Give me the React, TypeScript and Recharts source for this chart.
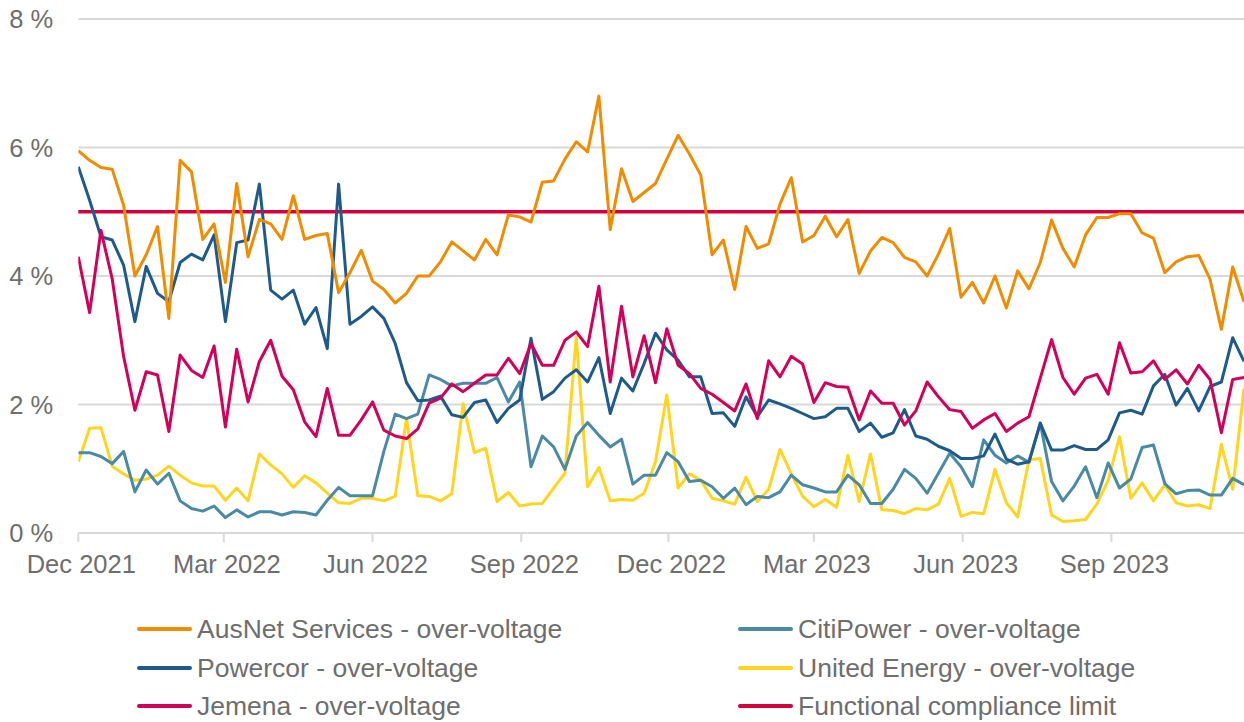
import React from 'react';
import { LineChart, Line, XAxis, YAxis, CartesianGrid, ReferenceLine } from 'recharts';

// ---- data ----
const startDate = '2021-12-01';
const weekCount = 104;

const tickDates = ['2021-12-01', '2022-03-01', '2022-06-01', '2022-09-01', '2022-12-01', '2023-03-01', '2023-06-01', '2023-09-01'];
const tickLabels = ['Dec 2021', 'Mar 2022', 'Jun 2022', 'Sep 2022', 'Dec 2022', 'Mar 2023', 'Jun 2023', 'Sep 2023'];
const yTicks = [0, 2, 4, 6, 8];
const complianceLimit = 5;

const ausnet = [
  5.95, 5.80, 5.69, 5.66, 5.10, 4.00, 4.33, 4.77, 3.34, 5.80, 5.62, 4.57, 4.81, 3.90, 5.44, 4.30, 4.88,
  4.81, 4.57, 5.25, 4.57, 4.63, 4.66, 3.74, 4.05, 4.40, 3.92, 3.79, 3.58, 3.73, 4.00, 4.00, 4.22, 4.53,
  4.39, 4.25, 4.57, 4.33, 4.95, 4.92, 4.84, 5.46, 5.48, 5.82, 6.09, 5.93, 6.80, 4.72, 5.67, 5.16, 5.30,
  5.44, 5.82, 6.19, 5.90, 5.57, 4.33, 4.56, 3.79, 4.77, 4.43, 4.50, 5.12, 5.53, 4.53, 4.63, 4.93, 4.61,
  4.88, 4.04, 4.39, 4.60, 4.52, 4.29, 4.22, 4.00, 4.34, 4.74, 3.67, 3.90, 3.58, 4.00, 3.50, 4.08, 3.80,
  4.21, 4.87, 4.43, 4.14, 4.64, 4.91, 4.91, 4.97, 4.97, 4.67, 4.59, 4.05, 4.22, 4.30, 4.32, 3.95, 3.17, 4.14, 3.60,
];

const powercor = [
  5.70, 5.18, 4.61, 4.56, 4.17, 3.29, 4.15, 3.73, 3.60, 4.21, 4.34, 4.25, 4.64, 3.29, 4.52, 4.56, 5.43,
  3.78, 3.64, 3.78, 3.25, 3.51, 2.87, 5.43, 3.25, 3.37, 3.52, 3.34, 2.95, 2.34, 2.06, 2.07, 2.13, 1.84,
  1.80, 2.03, 2.07, 1.72, 1.94, 2.07, 3.03, 2.08, 2.20, 2.41, 2.54, 2.35, 2.73, 1.86, 2.41, 2.21, 2.64,
  3.11, 2.85, 2.69, 2.43, 2.43, 1.86, 1.87, 1.66, 2.12, 1.81, 2.07, 2.01, 1.94, 1.86, 1.78, 1.81, 1.94,
  1.94, 1.58, 1.71, 1.49, 1.56, 1.92, 1.51, 1.46, 1.35, 1.28, 1.16, 1.16, 1.20, 1.54, 1.15, 1.07, 1.11,
  1.71, 1.29, 1.29, 1.36, 1.30, 1.30, 1.45, 1.87, 1.91, 1.85, 2.29, 2.47, 1.99, 2.25, 1.90, 2.28, 2.35, 3.04, 2.67,
];

const jemena = [
  4.30, 3.43, 4.71, 3.95, 2.75, 1.91, 2.51, 2.46, 1.58, 2.77, 2.53, 2.42, 2.91, 1.65, 2.86, 2.04, 2.67,
  3.00, 2.44, 2.23, 1.73, 1.50, 2.25, 1.52, 1.52, 1.76, 2.04, 1.60, 1.51, 1.47, 1.62, 2.02, 2.10, 2.32,
  2.20, 2.33, 2.46, 2.46, 2.72, 2.48, 2.95, 2.61, 2.61, 3.00, 3.13, 2.90, 3.84, 2.35, 3.53, 2.43, 3.07,
  2.34, 3.18, 2.61, 2.48, 2.25, 2.16, 2.03, 1.90, 2.32, 1.78, 2.68, 2.43, 2.75, 2.63, 2.03, 2.34, 2.28,
  2.27, 1.76, 2.21, 2.02, 2.02, 1.68, 1.90, 2.35, 2.12, 1.92, 1.89, 1.63, 1.76, 1.86, 1.58, 1.71, 1.81,
  2.41, 3.01, 2.42, 2.16, 2.41, 2.47, 2.16, 2.96, 2.49, 2.51, 2.68, 2.39, 2.54, 2.32, 2.61, 2.39, 1.56, 2.39, 2.42,
];

const citipower = [
  1.25, 1.25, 1.19, 1.08, 1.27, 0.64, 0.98, 0.76, 0.93, 0.50, 0.38, 0.34, 0.42, 0.24, 0.36, 0.25, 0.33,
  0.33, 0.28, 0.33, 0.32, 0.28, 0.51, 0.71, 0.58, 0.58, 0.58, 1.27, 1.85, 1.78, 1.85, 2.46, 2.39, 2.29,
  2.33, 2.33, 2.33, 2.42, 2.04, 2.35, 1.03, 1.51, 1.34, 0.99, 1.51, 1.72, 1.52, 1.34, 1.46, 0.76, 0.90,
  0.90, 1.25, 1.11, 0.80, 0.82, 0.72, 0.54, 0.70, 0.44, 0.57, 0.55, 0.64, 0.90, 0.75, 0.70, 0.64, 0.64,
  0.90, 0.75, 0.46, 0.46, 0.68, 0.99, 0.85, 0.62, 0.93, 1.24, 1.03, 0.72, 1.45, 1.21, 1.09, 1.20, 1.10,
  1.71, 0.80, 0.50, 0.73, 1.03, 0.55, 1.09, 0.70, 0.84, 1.33, 1.37, 0.77, 0.61, 0.66, 0.67, 0.59, 0.59, 0.85, 0.75,
];

const unitedEnergy = [
  1.11, 1.63, 1.64, 1.04, 0.92, 0.82, 0.84, 0.90, 1.04, 0.90, 0.78, 0.73, 0.73, 0.51, 0.70, 0.50, 1.23,
  1.06, 0.92, 0.71, 0.89, 0.78, 0.62, 0.47, 0.46, 0.54, 0.54, 0.50, 0.57, 1.78, 0.58, 0.57, 0.50, 0.61,
  2.01, 1.25, 1.32, 0.49, 0.63, 0.42, 0.45, 0.46, 0.70, 0.93, 3.05, 0.72, 1.02, 0.50, 0.52, 0.51, 0.62,
  1.11, 2.15, 0.70, 0.92, 0.82, 0.54, 0.50, 0.45, 0.87, 0.49, 0.68, 1.30, 0.92, 0.57, 0.41, 0.52, 0.40,
  1.21, 0.49, 1.23, 0.36, 0.35, 0.30, 0.38, 0.36, 0.45, 0.85, 0.26, 0.32, 0.30, 0.99, 0.47, 0.25, 1.14,
  1.16, 0.28, 0.18, 0.19, 0.21, 0.45, 0.82, 1.50, 0.54, 0.78, 0.50, 0.75, 0.47, 0.42, 0.44, 0.38, 1.38, 0.68, 2.25,
];

// ---- styling ----
const COLORS = {
  ausnet: '#EF8C00',
  citipower: '#4A8AA4',
  powercor: '#1F5B8A',
  united: '#FFD520',
  jemena: '#D1005A',
  limit: '#D4003B',
};
const TEXT = '#6E6E6E';
const GRID = '#D9D9D9';
const FONT = '"Liberation Sans", Arial, sans-serif';

const DAY = 86400000;
const toTs = (s: string) => {
  const [y, m, d] = s.split('-').map(Number);
  return Date.UTC(y, m - 1, d);
};
const startTs = toTs(startDate);
const tickTs = tickDates.map(toTs);

const data = ausnet.map((_, i) => ({
  t: startTs + i * 7 * DAY,
  ausnet: ausnet[i],
  powercor: powercor[i],
  jemena: jemena[i],
  citipower: citipower[i],
  united: unitedEnergy[i],
}));

const legendItems = [
  { label: 'AusNet Services - over-voltage', color: COLORS.ausnet },
  { label: 'CitiPower - over-voltage', color: COLORS.citipower },
  { label: 'Powercor - over-voltage', color: COLORS.powercor },
  { label: 'United Energy - over-voltage', color: COLORS.united },
  { label: 'Jemena - over-voltage', color: COLORS.jemena },
  { label: 'Functional compliance limit', color: COLORS.limit },
];

const fmtX = (v: number) => {
  const idx = tickTs.indexOf(v);
  return idx >= 0 ? tickLabels[idx] : '';
};

export default function App() {
  const lastTs = data[data.length - 1].t;
  return (
    <div style={{ position: 'fixed', left: 0, top: 0, width: 1244, height: 722, background: '#fff', fontFamily: FONT, overflow: 'hidden' }}>
      <LineChart width={1244} height={600} data={data} margin={{ top: 19, right: 0, bottom: 27, left: 0 }}>
        <CartesianGrid horizontal vertical={false} stroke={GRID} strokeWidth={2} />
        <XAxis
          dataKey="t"
          type="number"
          scale="linear"
          domain={[startTs, lastTs]}
          ticks={tickTs}
          tickFormatter={fmtX}
          height={40}
          axisLine={{ stroke: GRID, strokeWidth: 2 }}
          tickLine={{ stroke: GRID, strokeWidth: 2 }}
          tickSize={9}
          tickMargin={13}
          tick={{ fill: TEXT, fontSize: 25.5, fontFamily: FONT, dx: 3 }}
          interval={0}
          allowDataOverflow
        />
        <YAxis
          domain={[0, 8]}
          ticks={yTicks}
          tickFormatter={(v: number) => `${v} %`}
          width={78.3}
          axisLine={false}
          tickLine={false}
          tickSize={0}
          tickMargin={25}
          tick={{ fill: TEXT, fontSize: 25.5, fontFamily: FONT }}
          interval={0}
        />
        <ReferenceLine y={complianceLimit} stroke={COLORS.limit} strokeWidth={3.5} ifOverflow="extendDomain" />
        <Line dataKey="united" stroke={COLORS.united} strokeWidth={3} dot={false} isAnimationActive={false} strokeLinejoin="round" />
        <Line dataKey="citipower" stroke={COLORS.citipower} strokeWidth={3} dot={false} isAnimationActive={false} strokeLinejoin="round" />
        <Line dataKey="powercor" stroke={COLORS.powercor} strokeWidth={3} dot={false} isAnimationActive={false} strokeLinejoin="round" />
        <Line dataKey="jemena" stroke={COLORS.jemena} strokeWidth={3} dot={false} isAnimationActive={false} strokeLinejoin="round" />
        <Line dataKey="ausnet" stroke={COLORS.ausnet} strokeWidth={3} dot={false} isAnimationActive={false} strokeLinejoin="round" />
      </LineChart>
      <div style={{ position: 'absolute', left: 0, top: 610, width: 1244 }}>
        {[0, 1, 2].map((row) => (
          <div key={row} style={{ position: 'relative', height: 38.5 }}>
            {[0, 1].map((col) => {
              const item = legendItems[row * 2 + col];
              return (
                <div
                  key={col}
                  style={{
                    position: 'absolute',
                    left: col === 0 ? 137 : 738,
                    top: 0,
                    height: 38.5,
                    display: 'flex',
                    alignItems: 'center',
                    whiteSpace: 'nowrap',
                  }}
                >
                  <div style={{ width: 55, height: 4, borderRadius: 2, background: item.color }} />
                  <span style={{ marginLeft: 5, fontSize: 26.5, color: TEXT, lineHeight: '38.5px' }}>{item.label}</span>
                </div>
              );
            })}
          </div>
        ))}
      </div>
    </div>
  );
}
